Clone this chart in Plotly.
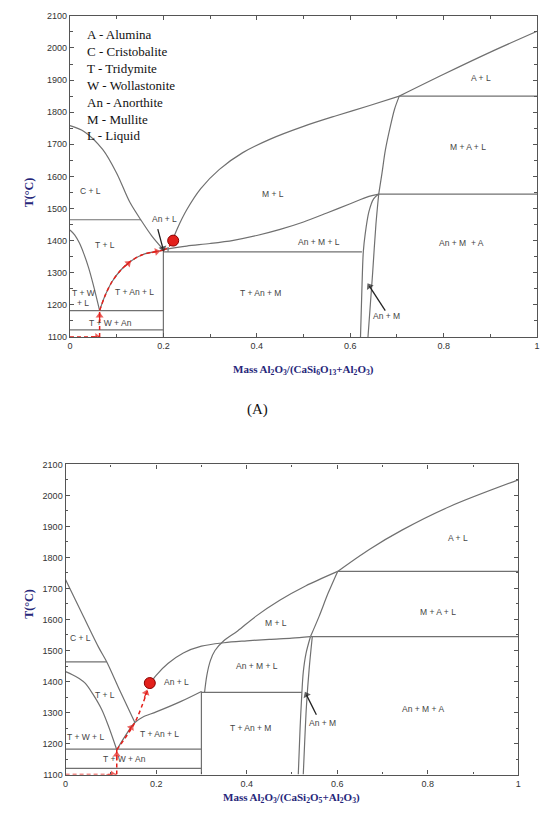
import plotly.graph_objects as go

# ---------------- Diagram (A) data ----------------
a_crist_x = [0, 0.03, 0.07, 0.10, 0.128, 0.152, 0.175, 0.2]
a_crist_T = [1758, 1740, 1684, 1610, 1520, 1464, 1415, 1372]
a_trid_x = [0, 0.01, 0.02, 0.03, 0.04, 0.05, 0.0635]
a_trid_T = [1433, 1418, 1393, 1358, 1315, 1262, 1182]
a_tanl_x = [0.0635, 0.075, 0.09, 0.11, 0.13, 0.155, 0.18, 0.2]
a_tanl_T = [1182, 1228, 1272, 1310, 1336, 1356, 1365, 1370]
a_anml_x = [0.2, 0.25, 0.3, 0.35, 0.4, 0.45, 0.5, 0.55, 0.6, 0.64, 0.661]
a_anml_T = [1372, 1383, 1391, 1401, 1416, 1435, 1458, 1486, 1515, 1538, 1545]
a_mliq_x = [0.215, 0.23, 0.25, 0.28, 0.32, 0.37, 0.43, 0.5, 0.57, 0.64, 0.705]
a_mliq_T = [1384, 1438, 1496, 1562, 1622, 1674, 1717, 1756, 1789, 1820, 1850]
a_alum_x = [0.705, 0.8, 0.9, 1.0]
a_alum_T = [1850, 1918, 1987, 2052]
a_msol_x = [0.705, 0.695, 0.685, 0.675, 0.668, 0.661]
a_msol_T = [1850, 1810, 1750, 1680, 1610, 1545]
a_left_x = [0.661, 0.65, 0.64, 0.632, 0.628, 0.625, 0.622]
a_left_T = [1545, 1530, 1490, 1420, 1365, 1250, 1100]
a_right_x = [0.661, 0.655, 0.648, 0.643, 0.638]
a_right_T = [1545, 1450, 1300, 1200, 1100]
a_hlines = [  # (x0, x1, T)
    (0, 0.152, 1465), (0, 0.2, 1182), (0, 0.2, 1122),
    (0.2, 0.625, 1365), (0.661, 1, 1545), (0.705, 1, 1850),
]
a_vlines = [(0.2, 1100, 1372), (0.21, 1365, 1380)]
a_red_h_x = [0, 0.0635]; a_red_h_T = [1100, 1100]
a_red_v_x = [0.0635, 0.0635]; a_red_v_T = [1100, 1182]
a_red_end_x = [0.2, 0.207, 0.215, 0.221]; a_red_end_T = [1370, 1376, 1386, 1400]
a_dot = (0.221, 1400)
a_red_arrows = [  # (tail x, tail T, tip x, tip T)
    (0.045, 1100, 0.058, 1100), (0.0635, 1150, 0.0635, 1166),
    (0.118, 1320, 0.125, 1329), (0.175, 1363, 0.186, 1366),
]
a_black_arrows = [(0.188, 1436, 0.199, 1376), (0.675, 1182, 0.641, 1258)]
a_labels = [
    ("C + L", 0.044, 1554), ("M + L", 0.435, 1544), ("A + L", 0.88, 1908),
    ("M + A + L", 0.852, 1691), ("An + M + L", 0.534, 1397), ("An + M  + A", 0.838, 1393),
    ("T + An + M", 0.407, 1236), ("T + L", 0.075, 1385), ("T + An + L", 0.139, 1241),
    ("T + W", 0.028, 1236), ("+ L", 0.027, 1206), ("T + W + An", 0.086, 1144),
    ("An + L", 0.202, 1467), ("An + M", 0.678, 1165),
]
legend_lines = ["A - Alumina", "C - Cristobalite", "T - Tridymite", "W - Wollastonite",
                "An - Anorthite", "M - Mullite", "L - Liquid"]

# ---------------- Diagram (B) data ----------------
b_crist_x = [0, 0.04, 0.073, 0.091, 0.12, 0.153]
b_crist_T = [1728, 1608, 1510, 1463, 1370, 1268]
b_trid_x = [0, 0.015, 0.03, 0.0437, 0.06, 0.08, 0.095, 0.113]
b_trid_T = [1432, 1422, 1410, 1394, 1360, 1309, 1255, 1180]
b_tanl_x = [0.113, 0.153, 0.17, 0.2, 0.255, 0.3]
b_tanl_T = [1180, 1268, 1285, 1302, 1336, 1368]
b_anliq_x = [0.186, 0.2, 0.226, 0.26, 0.3, 0.35, 0.4, 0.45, 0.5, 0.54]
b_anliq_T = [1392, 1420, 1458, 1492, 1514, 1525, 1531, 1536, 1540, 1545]
b_mliq_x = [0.307, 0.312, 0.32, 0.33, 0.35, 0.38, 0.42, 0.473, 0.53, 0.601]
b_mliq_T = [1365, 1420, 1468, 1500, 1532, 1563, 1610, 1662, 1708, 1755]
b_alum_x = [0.601, 0.67, 0.743, 0.85, 1.0]
b_alum_T = [1755, 1825, 1888, 1965, 2050]
b_msol_x = [0.601, 0.58, 0.56, 0.541]
b_msol_T = [1755, 1685, 1610, 1545]
b_left_x = [0.541, 0.531, 0.525, 0.522, 0.518, 0.514]
b_left_T = [1545, 1490, 1430, 1365, 1250, 1100]
b_right_x = [0.545, 0.538, 0.532, 0.528, 0.525]
b_right_T = [1545, 1440, 1320, 1200, 1100]
b_hlines = [
    (0, 0.091, 1463), (0, 0.3, 1182), (0, 0.3, 1120),
    (0.3, 0.522, 1365), (0.541, 1, 1545), (0.601, 1, 1755),
]
b_vlines = [(0.3, 1100, 1368)]
b_red_h_x = [0, 0.113]; b_red_h_T = [1100, 1100]
b_red_v_x = [0.113, 0.113]; b_red_v_T = [1100, 1180]
b_red_path_x = [0.113, 0.153, 0.186]; b_red_path_T = [1180, 1268, 1392]
b_dot = (0.186, 1395)
b_red_arrows = [
    (0.09, 1100, 0.104, 1100), (0.113, 1148, 0.113, 1164),
    (0.139, 1238, 0.145, 1252), (0.174, 1348, 0.178, 1364),
]
b_black_arrows = [(0.554, 1293, 0.532, 1357)]
b_labels = [
    ("C + L", 0.033, 1540), ("M + L", 0.465, 1590), ("A + L", 0.867, 1863),
    ("M + A + L", 0.823, 1625), ("An + M + L", 0.422, 1449), ("An + L", 0.244, 1399),
    ("T + L", 0.087, 1357), ("T + W + L", 0.044, 1221), ("T + An + L", 0.208, 1231),
    ("T + W + An", 0.131, 1150), ("T + An + M", 0.408, 1251), ("An + M + A", 0.79, 1311),
    ("An + M", 0.568, 1267),
]

x_ticks = [0, 0.2, 0.4, 0.6, 0.8, 1]
x_tick_text = ["0", "0.2", "0.4", "0.6", "0.8", "1"]
y_ticks = list(range(1100, 2101, 100))

GRAY = "#707070"
RED = "#e3201b"
NAVY = "#26267a"

fig = go.Figure()


def line(xs, ys, ax, color=GRAY, width=1.2, dash="solid"):
    fig.add_trace(go.Scatter(x=xs, y=ys, mode="lines", xaxis=ax[0], yaxis=ax[1],
                             line=dict(color=color, width=width, dash=dash, shape="spline",
                                       smoothing=0.9),
                             hoverinfo="skip", showlegend=False))


def arrow(seg, ax, color, width, size):
    fig.add_trace(go.Scatter(x=[seg[0], seg[2]], y=[seg[1], seg[3]], mode="lines+markers",
                             xaxis=ax[0], yaxis=ax[1],
                             line=dict(color=color, width=width),
                             marker=dict(symbol="triangle-up", angleref="previous",
                                         size=[0, size],
                                         color=color, line=dict(width=0)),
                             hoverinfo="skip", showlegend=False))


def build(ax, curves, hlines, vlines, red_paths, dot, red_arrows, black_arrows, labels):
    xr, yr = ax
    xref = "x" if xr == "x" else "x2"
    yref = "y" if yr == "y" else "y2"
    for xs, ys in curves:
        line(xs, ys, ax)
    for x0, x1, t in hlines:
        line([x0, x1], [t, t], ax)
    for xv, t0, t1 in vlines:
        line([xv, xv], [t0, t1], ax)
    for xs, ys in red_paths:
        line(xs, ys, ax, color=RED, width=1.5, dash="4px,3px")
    for seg in red_arrows:
        arrow(seg, ax, RED, 1.3, 7)
    for seg in black_arrows:
        arrow(seg, ax, "#222", 1.3, 7)
    fig.add_trace(go.Scatter(x=[dot[0]], y=[dot[1]], mode="markers", xaxis=xr, yaxis=yr,
                             marker=dict(size=11, color=RED, line=dict(color="#8a0000", width=1)),
                             hoverinfo="skip", showlegend=False))
    for txt, lx, ly in labels:
        fig.add_annotation(x=lx, y=ly, xref=xref, yref=yref, text=txt, showarrow=False,
                           font=dict(family="Liberation Sans, Arial", size=8.5, color="#444"))


build(("x", "y"),
      [(a_crist_x, a_crist_T), (a_trid_x, a_trid_T), (a_tanl_x, a_tanl_T),
       (a_anml_x, a_anml_T), (a_mliq_x, a_mliq_T), (a_alum_x, a_alum_T),
       (a_msol_x, a_msol_T), (a_left_x, a_left_T), (a_right_x, a_right_T)],
      a_hlines, a_vlines,
      [(a_red_h_x, a_red_h_T), (a_red_v_x, a_red_v_T), (a_tanl_x, a_tanl_T),
       (a_red_end_x, a_red_end_T)],
      a_dot, a_red_arrows, a_black_arrows, a_labels)

build(("x2", "y2"),
      [(b_crist_x, b_crist_T), (b_trid_x, b_trid_T), (b_tanl_x, b_tanl_T),
       (b_anliq_x, b_anliq_T), (b_mliq_x, b_mliq_T), (b_alum_x, b_alum_T),
       (b_msol_x, b_msol_T), (b_left_x, b_left_T), (b_right_x, b_right_T)],
      b_hlines, b_vlines,
      [(b_red_h_x, b_red_h_T), (b_red_v_x, b_red_v_T), (b_red_path_x, b_red_path_T)],
      b_dot, b_red_arrows, b_black_arrows, b_labels)

# legend text block for (A)
fig.add_annotation(x=0.032, y=2072, xref="x", yref="y", xanchor="left", yanchor="top",
                   align="left", showarrow=False, text="<br>".join(legend_lines),
                   font=dict(family="Liberation Serif, Times New Roman", size=13, color="#111"))

W, H = 547, 826
dom_a_x = [67.7 / W, 540 / W]
dom_a_y = [1 - 336 / H, 1 - 11 / H]
dom_b_x = [63.3 / W, 521 / W]
dom_b_y = [1 - 779 / H, 1 - 465 / H]

axis_common = dict(showline=True, linecolor="#555", linewidth=1.3, mirror="ticks",
                   ticks="inside", ticklen=4, tickcolor="#555", showgrid=False,
                   zeroline=False,
                   tickfont=dict(family="Liberation Sans, Arial", size=9, color="#333"))
xax = dict(axis_common, range=[0, 1], tickvals=x_ticks, ticktext=x_tick_text,
           minor=dict(dtick=0.1, ticks="inside", ticklen=2.5, tickcolor="#555"))
yax = dict(axis_common, range=[1100, 2100], tickvals=y_ticks,
           minor=dict(dtick=50, ticks="inside", ticklen=2.5, tickcolor="#555"))

fig.update_layout(
    width=W, height=H, margin=dict(l=0, r=0, t=0, b=0),
    paper_bgcolor="white", plot_bgcolor="white", showlegend=False,
    xaxis=dict(xax, domain=dom_a_x, anchor="y"),
    yaxis=dict(yax, domain=dom_a_y, anchor="x"),
    xaxis2=dict(xax, domain=dom_b_x, anchor="y2"),
    yaxis2=dict(yax, domain=dom_b_y, anchor="x2"),
)

title_font = dict(family="Liberation Serif, Times New Roman", size=12, color=NAVY)
fig.add_annotation(x=18 / W, y=1 - 173 / H, xref="paper", yref="paper", textangle=-90,
                   text="<b>T(°C)</b>", showarrow=False, font=title_font)
fig.add_annotation(x=17 / W, y=1 - 623 / H, xref="paper", yref="paper", textangle=-90,
                   text="<b>T(°C)</b>", showarrow=False, font=title_font)
fig.add_annotation(x=304 / W, y=1 - 369 / H, xref="paper", yref="paper", showarrow=False,
                   text="<b>Mass Al<sub>2</sub>O<sub>3</sub>/(CaSi<sub>6</sub>O<sub>13</sub>+Al<sub>2</sub>O<sub>3</sub>)</b>",
                   font=dict(title_font, size=11))
fig.add_annotation(x=292 / W, y=1 - 812 / H, xref="paper", yref="paper", showarrow=False,
                   text="<b>Mass Al<sub>2</sub>O<sub>3</sub>/(CaSi<sub>2</sub>O<sub>5</sub>+Al<sub>2</sub>O<sub>3</sub>)</b>",
                   font=dict(title_font, size=11))
fig.add_annotation(x=257 / W, y=1 - 409 / H, xref="paper", yref="paper", showarrow=False,
                   text="(A)", font=dict(family="Liberation Serif, Times New Roman", size=15,
                                         color="#111"))

fig.write_html("out.html")
